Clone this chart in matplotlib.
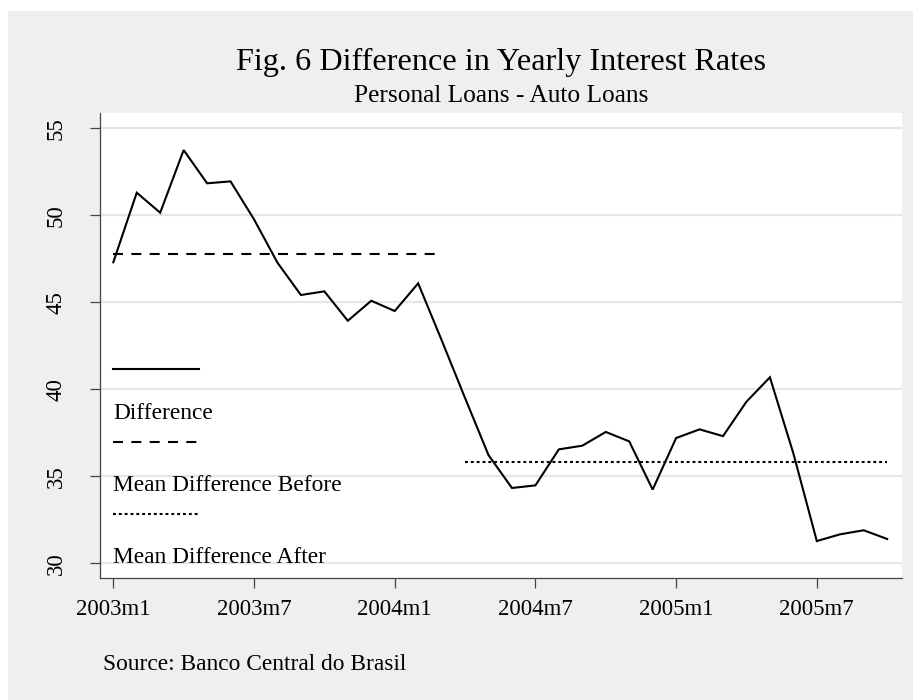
import matplotlib
matplotlib.use("Agg")
import matplotlib.pyplot as plt
import numpy as np
from matplotlib.patches import Rectangle
from matplotlib.lines import Line2D
from matplotlib.offsetbox import AnchoredOffsetbox, DrawingArea, TextArea, VPacker

# monthly difference (personal loans - auto loans), 2003m1 .. 2005m10
months = ["2003m1", "2003m2", "2003m3", "2003m4", "2003m5", "2003m6",
          "2003m7", "2003m8", "2003m9", "2003m10", "2003m11", "2003m12",
          "2004m1", "2004m2", "2004m3", "2004m4", "2004m5", "2004m6",
          "2004m7", "2004m8", "2004m9", "2004m10", "2004m11", "2004m12",
          "2005m1", "2005m2", "2005m3", "2005m4", "2005m5", "2005m6",
          "2005m7", "2005m8", "2005m9", "2005m10"]
diff = [47.3, 51.3, 50.15, 53.75, 51.84, 51.95, 49.77, 47.28, 45.42, 45.63,
        43.94, 45.09, 44.5, 46.09, 42.83, 39.5, 36.22, 34.33, 34.48, 36.55,
        36.76, 37.55, 37.01, 34.24, 37.2, 37.7, 37.31, 39.29, 40.69, 36.32,
        31.28, 31.67, 31.9, 31.4]
n_before = 15          # 2003m1 .. 2004m3
mean_before = 47.8
mean_after = 35.8
ytick_vals = [30, 35, 40, 45, 50, 55]
xtick_labels = ["2003m1", "2003m7", "2004m1", "2004m7", "2005m1", "2005m7"]

plt.rcParams['font.family'] = ['Liberation Serif', 'DejaVu Serif']

BG = '#efefef'
LW = 1.5
DASH = (0, (4.8, 4.0))
DOT = (0, (1.4, 1.4))


def main():
    fig = plt.figure(figsize=(9.13, 7), dpi=100, facecolor='white')
    fig.patches.append(Rectangle((8 / 913, 0), 1, 1 - 11 / 700, transform=fig.transFigure,
                                 facecolor=BG, edgecolor='none', zorder=-10))
    ax = fig.add_axes([100 / 913, 1 - 578.3 / 700, 801.7 / 913, 465.3 / 700])
    ax.set_facecolor('white')

    x = np.arange(len(months))
    ax.plot(x, diff, color='black', lw=LW, solid_joinstyle='miter', zorder=3)
    xb = x[:n_before]
    xa = x[n_before:]
    ax.plot(xb, [mean_before] * len(xb), color='black', lw=LW, linestyle=DASH, zorder=3)
    ax.plot(xa, [mean_after] * len(xa), color='black', lw=LW, linestyle=DOT, zorder=3)

    ax.set_xlim(-0.567, 33.62)
    ax.set_ylim(29.14, 55.88)
    ax.set_yticks(ytick_vals)
    ax.set_yticklabels([str(v) for v in ytick_vals], rotation=90, va='center')
    ax.set_xticks([months.index(m) for m in xtick_labels])
    ax.set_xticklabels(xtick_labels)
    ax.yaxis.grid(True, color='#e6e6e6', lw=1.6, zorder=0)
    ax.set_axisbelow(True)

    for s in ['top', 'right']:
        ax.spines[s].set_visible(False)
    for s in ['left', 'bottom']:
        ax.spines[s].set_color('#444444')
        ax.spines[s].set_linewidth(0.9)
    ax.tick_params(axis='y', direction='out', length=7.2, width=0.9, color='#444444',
                   labelsize=16.5, pad=17)
    ax.tick_params(axis='x', direction='out', length=7.2, width=0.9, color='#444444',
                   labelsize=16.5, pad=8)

    # legend: key line above each label
    kw = 62
    groups = []
    for style, label in [('-', "Difference"),
                         (DASH, "Mean Difference Before"),
                         (DOT, "Mean Difference After")]:
        da = DrawingArea(kw, 6, 0, 0)
        da.add_artist(Line2D([0, kw], [3, 3], color='black', lw=LW, linestyle=style))
        txt = TextArea(label, textprops=dict(fontsize=16.8, color='black'))
        groups.append(VPacker(children=[da, txt], align='left', pad=0, sep=21))
    pack = VPacker(children=groups, align='left', pad=0, sep=10)
    box = AnchoredOffsetbox(loc='upper left', child=pack, frameon=False, pad=0,
                            borderpad=0, bbox_to_anchor=(113.3 / 913, 1 - 365 / 700),
                            bbox_transform=fig.transFigure)
    ax.add_artist(box)

    fig.text(500.8 / 913, 1 - 62 / 700, "Fig. 6 Difference in Yearly Interest Rates",
             fontsize=23.2, ha='center', va='center')
    fig.text(500.8 / 913, 1 - 96 / 700, "Personal Loans - Auto Loans",
             fontsize=18.3, ha='center', va='center')
    fig.text(103 / 913, 1 - 665 / 700, "Source: Banco Central do Brasil",
             fontsize=16.8, ha='left', va='center')

    fig.savefig("out.png", dpi=100, facecolor=fig.get_facecolor())


if __name__ == "__main__":
    main()
